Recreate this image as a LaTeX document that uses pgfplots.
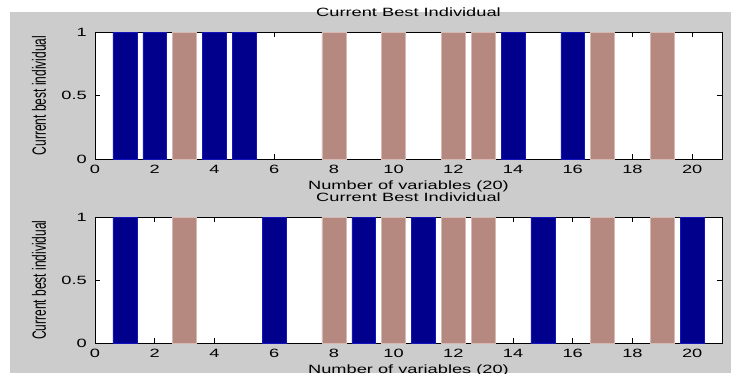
\documentclass[border=0pt]{standalone}
\usepackage{pgfplots}
\pgfplotsset{compat=1.18}
\usepackage{fontspec}
\setmainfont{Liberation Sans}
\newfontfamily\wide[FakeStretch=1.52]{Liberation Sans}
\definecolor{mblue}{RGB}{0,0,140}
\definecolor{mblueedge}{RGB}{20,20,190}
\definecolor{mbrown}{RGB}{181,136,128}
\definecolor{mbrownedge}{RGB}{215,185,180}
\definecolor{mgray}{RGB}{204,204,204}
\pgfplotsset{
  mstyle/.style={
    scale only axis, width=627pt,
    xmin=0, xmax=21, ymin=0, ymax=1,
    xtick={0,2,...,20}, ytick={0,0.5,1},
    yticklabels={0,0.5,1},
    tick align=inside, major tick length=5pt,
    xtick pos=both, ytick pos=both,
    axis background/.style={fill=white},
    axis line style={line width=0.8pt, black},
    tick style={line width=0.8pt, black},
    /pgf/number format/assume math mode=true,
    tick label style={font=\wide\fontsize{12}{14}\selectfont, text=black},
    xticklabel style={anchor=base, yshift=-14pt, inner sep=0pt},
    yticklabel style={anchor=east, inner sep=0pt, xshift=-8pt},
    title style={at={(axis description cs:0.5,1)}, anchor=base, yshift=9.5pt, font=\wide\fontsize{12}{14}\selectfont, inner sep=0pt},
    xlabel style={at={(axis description cs:0.5,0)}, anchor=base, yshift=-30pt, font=\wide\fontsize{12}{14}\selectfont, inner sep=0pt},
    ylabel style={at={(axis description cs:-0.0782,0.5)}, anchor=base, font=\fontsize{12}{14}\selectfont, inner sep=0pt},
    title={Current Best Individual},
    xlabel={Number of variables (20)},
    ylabel={\scalebox{1}[1.6]{Current best individual}},
  },
  bluebar/.style={ybar, bar width=0.8, bar shift=0pt, fill=mblue, draw=mblueedge, line width=0.5pt},
  brownbar/.style={ybar, bar width=0.8, bar shift=0pt, fill=mbrown, draw=mbrownedge, line width=0.5pt},
}
\begin{document}
\begin{tikzpicture}[x=1pt,y=1pt]
\useasboundingbox (0,0) rectangle (731,373);
\clip (0,0) rectangle (731,373);
\fill[white] (0,0) rectangle (731,373);
\fill[mgray] (10,0) rectangle (731,361);
\begin{axis}[mstyle, height=127pt, at={(95pt,214pt)}, anchor=south west]
\addplot[bluebar] coordinates {(1,1) (2,1) (4,1) (5,1) (14,1) (16,1)};
\addplot[brownbar] coordinates {(3,1) (8,1) (10,1) (12,1) (13,1) (17,1) (19,1)};
\end{axis}
\begin{axis}[mstyle, height=126pt, at={(95pt,30pt)}, anchor=south west]
\addplot[bluebar] coordinates {(1,1) (6,1) (9,1) (11,1) (15,1) (20,1)};
\addplot[brownbar] coordinates {(3,1) (8,1) (10,1) (12,1) (13,1) (17,1) (19,1)};
\end{axis}
\end{tikzpicture}
\end{document}
